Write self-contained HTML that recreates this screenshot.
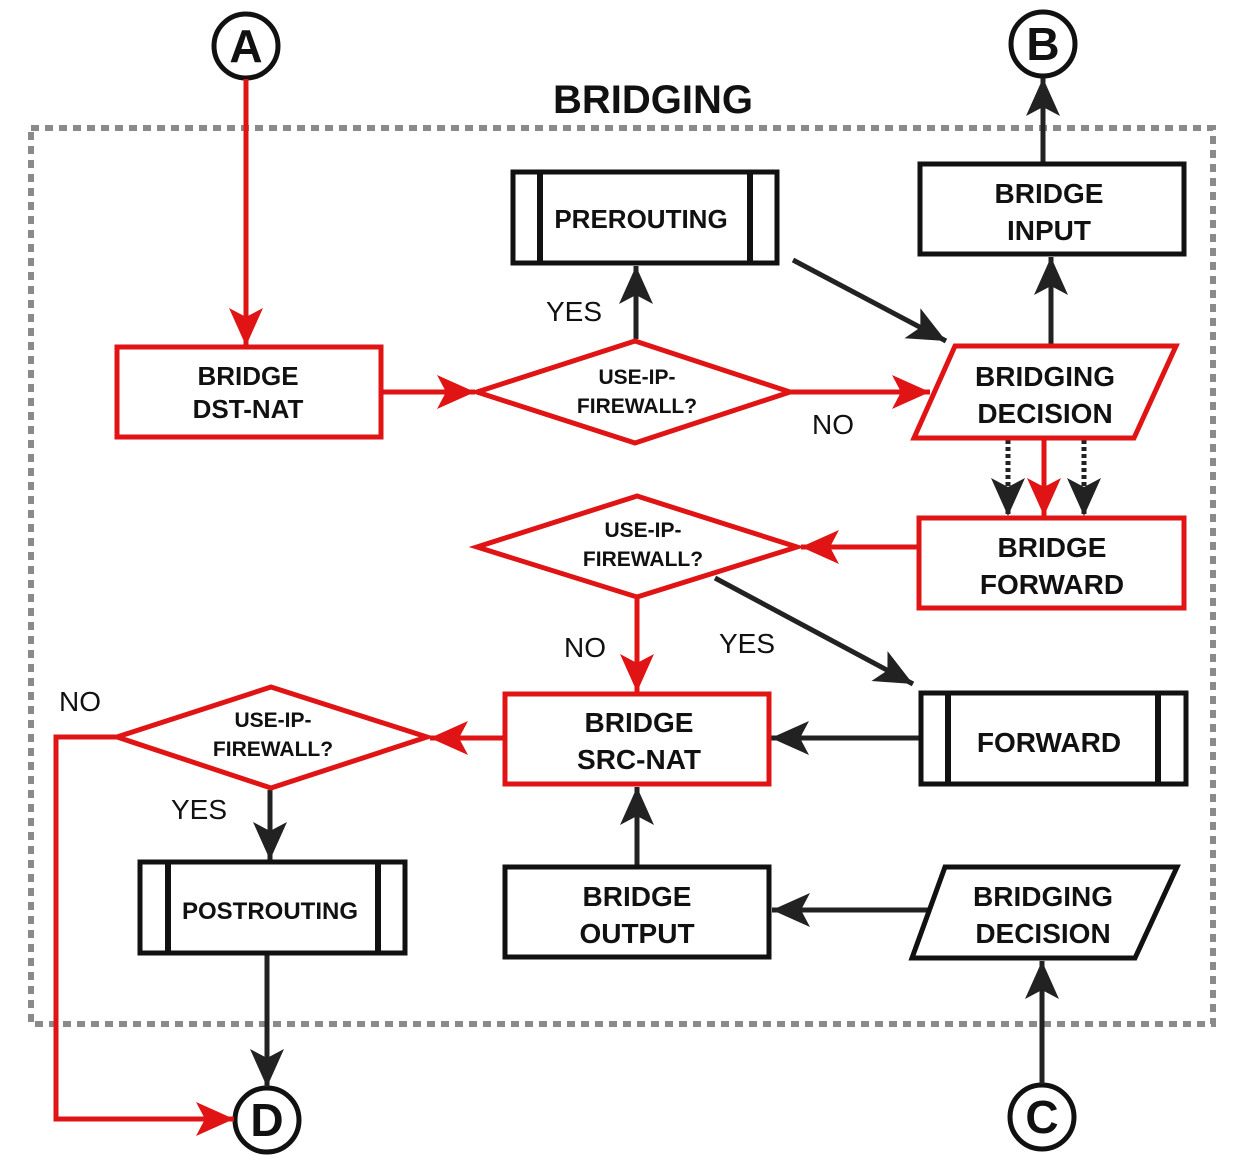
<!DOCTYPE html>
<html><head><meta charset="utf-8"><style>
html,body{margin:0;padding:0;background:#fff}
svg{display:block}
text{font-family:"Liberation Sans",Arial,sans-serif}
.b{font-weight:bold;fill:#111}
</style></head><body>
<svg width="1248" height="1168" viewBox="0 0 1248 1168" xmlns="http://www.w3.org/2000/svg">
<defs>
<marker id="ar" markerUnits="userSpaceOnUse" markerWidth="40" markerHeight="36" refX="38" refY="17" orient="auto">
<path d="M0,0 L38,17 L0,34 L9,17 z" fill="#e01414"/></marker>
<marker id="ak" markerUnits="userSpaceOnUse" markerWidth="40" markerHeight="36" refX="38" refY="17" orient="auto">
<path d="M0,0 L38,17 L0,34 L9,17 z" fill="#222"/></marker>
</defs>
<rect width="1248" height="1168" fill="#fff"/>
<rect x="31" y="128" width="1182" height="896" fill="none" stroke="#8a8a8a" stroke-width="6" stroke-dasharray="8,6"/>
<text x="653" y="113" text-anchor="middle" class="b" font-size="40">BRIDGING</text>

<g fill="none" stroke="#111" stroke-width="5">
<circle cx="246" cy="46" r="32" fill="#fff"/>
<circle cx="1043" cy="44" r="32" fill="#fff"/>
<circle cx="1042" cy="1117" r="32" fill="#fff"/>
<circle cx="267" cy="1120" r="32" fill="#fff"/>
</g>
<g class="b" font-size="46" text-anchor="middle">
<text x="246" y="62">A</text><text x="1043" y="60">B</text>
<text x="1042" y="1133">C</text><text x="267" y="1136">D</text>
</g>

<!-- connectors -->
<g fill="none" stroke-width="5">
<line x1="246" y1="79" x2="246" y2="346" stroke="#e01414" marker-end="url(#ar)"/>
<line x1="381" y1="392" x2="475" y2="392" stroke="#e01414" marker-end="url(#ar)"/>
<line x1="790" y1="392" x2="930" y2="392" stroke="#e01414" marker-end="url(#ar)"/>
<line x1="636" y1="339" x2="636" y2="266" stroke="#222" marker-end="url(#ak)"/>
<line x1="793" y1="260" x2="946" y2="341" stroke="#222" marker-end="url(#ak)"/>
<line x1="1051" y1="344" x2="1051" y2="257" stroke="#222" marker-end="url(#ak)"/>
<line x1="1043" y1="164" x2="1043" y2="78" stroke="#222" marker-end="url(#ak)"/>
<line x1="1044" y1="440" x2="1044" y2="516" stroke="#e01414" marker-end="url(#ar)"/>
<line x1="1008" y1="440" x2="1008" y2="516" stroke="#222" stroke-dasharray="4,3" marker-end="url(#ak)"/>
<line x1="1084" y1="440" x2="1084" y2="516" stroke="#222" stroke-dasharray="4,3" marker-end="url(#ak)"/>
<line x1="919" y1="547" x2="801" y2="547" stroke="#e01414" marker-end="url(#ar)"/>
<line x1="637" y1="599" x2="637" y2="692" stroke="#e01414" marker-end="url(#ar)"/>
<line x1="715" y1="578" x2="913" y2="684" stroke="#222" marker-end="url(#ak)"/>
<line x1="921" y1="738" x2="771" y2="738" stroke="#222" marker-end="url(#ak)"/>
<line x1="505" y1="738" x2="430" y2="738" stroke="#e01414" marker-end="url(#ar)"/>
<polyline points="117,737 56,737 56,1119 234,1119" stroke="#e01414" marker-end="url(#ar)"/>
<line x1="270" y1="790" x2="270" y2="860" stroke="#222" marker-end="url(#ak)"/>
<line x1="267" y1="953" x2="267" y2="1087" stroke="#222" marker-end="url(#ak)"/>
<line x1="637" y1="867" x2="637" y2="787" stroke="#222" marker-end="url(#ak)"/>
<line x1="936" y1="910" x2="772" y2="910" stroke="#222" marker-end="url(#ak)"/>
<line x1="1042" y1="1084" x2="1042" y2="961" stroke="#222" marker-end="url(#ak)"/>
</g>

<!-- shapes -->
<g stroke-width="5" fill="#fff">
<rect x="117" y="347" width="264" height="90" stroke="#e01414"/>
<polygon points="635,341 790,392 635,443 477,392" stroke="#e01414"/>
<rect x="513" y="172" width="264" height="91" stroke="#111"/>
<line x1="540" y1="172" x2="540" y2="263" stroke="#111" stroke-width="6"/>
<line x1="750" y1="172" x2="750" y2="263" stroke="#111" stroke-width="6"/>
<rect x="920" y="164" width="264" height="90" stroke="#111"/>
<polygon points="955,346 1176,346 1134,438 914,438" stroke="#e01414"/>
<rect x="919" y="518" width="265" height="90" stroke="#e01414"/>
<polygon points="637,496 797,547 637,597 477,547" stroke="#e01414"/>
<rect x="921" y="693" width="265" height="91" stroke="#111"/>
<line x1="948" y1="693" x2="948" y2="784" stroke="#111" stroke-width="6"/>
<line x1="1158" y1="693" x2="1158" y2="784" stroke="#111" stroke-width="6"/>
<rect x="505" y="694" width="264" height="90" stroke="#e01414"/>
<polygon points="271,687 427,737 271,788 117,737" stroke="#e01414"/>
<rect x="140" y="862" width="265" height="91" stroke="#111"/>
<line x1="168" y1="862" x2="168" y2="953" stroke="#111" stroke-width="6"/>
<line x1="378" y1="862" x2="378" y2="953" stroke="#111" stroke-width="6"/>
<rect x="505" y="867" width="264" height="90" stroke="#111"/>
<polygon points="945,867 1177,867 1135,958 912,958" stroke="#111"/>
</g>

<!-- labels -->
<g class="b" text-anchor="middle">
<text x="248" y="385" font-size="26">BRIDGE</text>
<text x="248" y="418" font-size="26">DST-NAT</text>
<text x="637" y="384" font-size="21">USE-IP-</text>
<text x="637" y="413" font-size="21">FIREWALL?</text>
<text x="641" y="228" font-size="26">PREROUTING</text>
<text x="1049" y="203" font-size="28">BRIDGE</text>
<text x="1049" y="240" font-size="28">INPUT</text>
<text x="1045" y="386" font-size="28">BRIDGING</text>
<text x="1045" y="423" font-size="28">DECISION</text>
<text x="1052" y="557" font-size="28">BRIDGE</text>
<text x="1052" y="594" font-size="28">FORWARD</text>
<text x="643" y="537" font-size="21">USE-IP-</text>
<text x="643" y="566" font-size="21">FIREWALL?</text>
<text x="1049" y="752" font-size="28">FORWARD</text>
<text x="639" y="732" font-size="28">BRIDGE</text>
<text x="639" y="769" font-size="28">SRC-NAT</text>
<text x="273" y="727" font-size="21">USE-IP-</text>
<text x="273" y="756" font-size="21">FIREWALL?</text>
<text x="270" y="919" font-size="24">POSTROUTING</text>
<text x="637" y="906" font-size="28">BRIDGE</text>
<text x="637" y="943" font-size="28">OUTPUT</text>
<text x="1043" y="906" font-size="28">BRIDGING</text>
<text x="1043" y="943" font-size="28">DECISION</text>
</g>
<g font-size="28" fill="#111" text-anchor="middle">
<text x="574" y="321">YES</text>
<text x="833" y="434">NO</text>
<text x="585" y="657">NO</text>
<text x="747" y="653">YES</text>
<text x="80" y="711">NO</text>
<text x="199" y="819">YES</text>
</g>
</svg>
</body></html>
